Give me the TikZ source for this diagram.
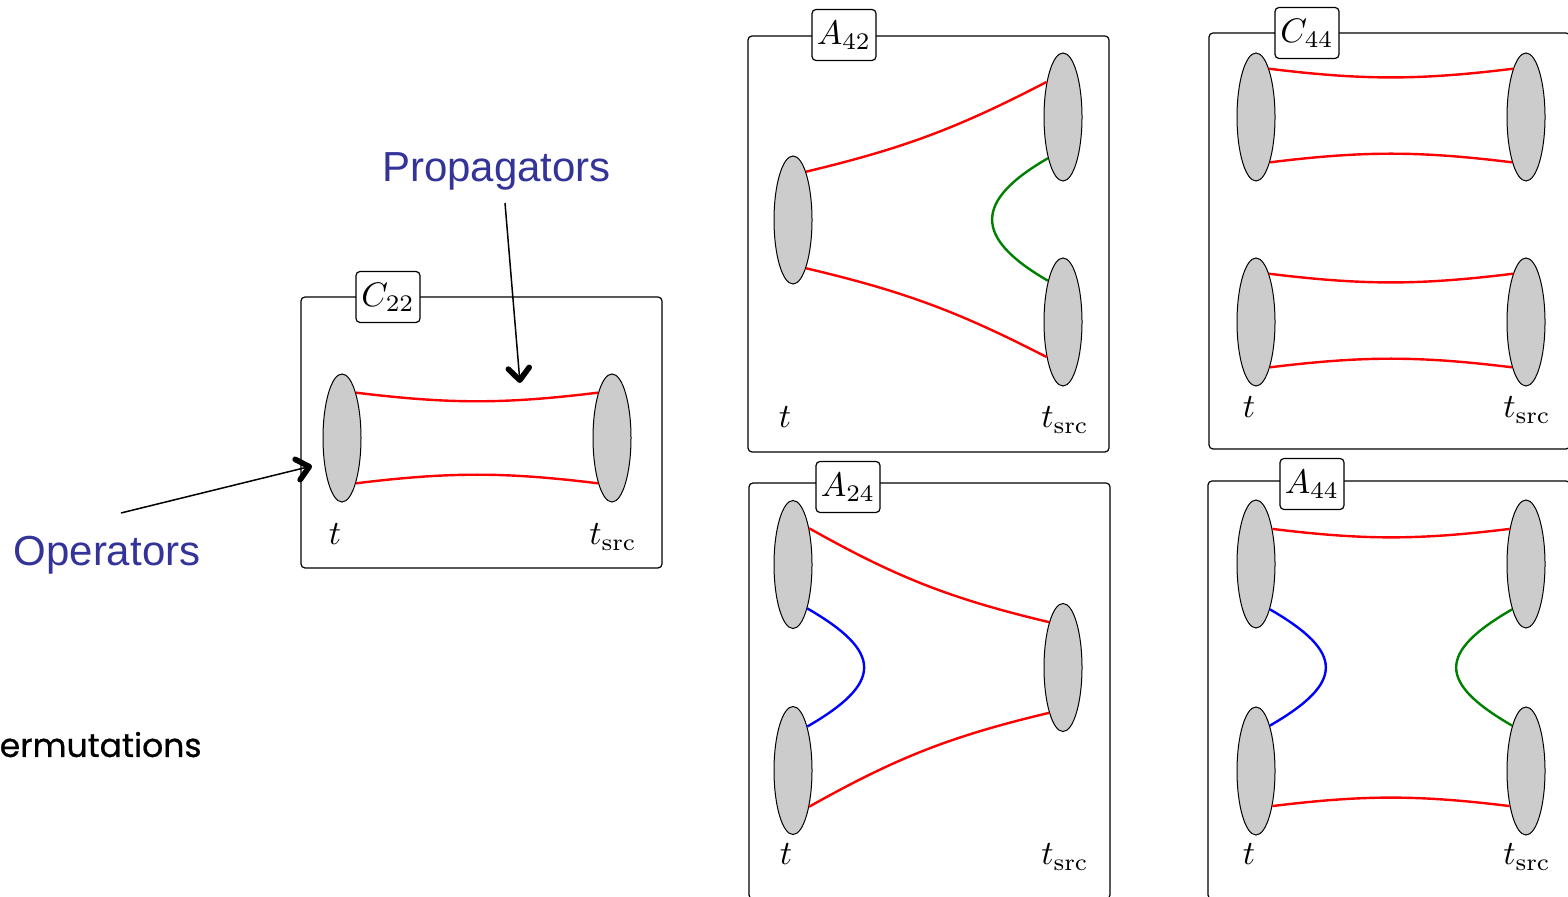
\documentclass[tikz,border=0pt]{standalone}
\usepackage{fontspec}
\newfontfamily\arialf{Liberation Sans}
\newfontfamily\comicf[FakeBold=0.7]{Poppins}
\usetikzlibrary{shapes.geometric,arrows.meta}
\definecolor{notecol}{RGB}{51,51,153}
\definecolor{propgreen}{RGB}{0,128,0}
\newcommand\mlab[1]{\scalebox{1.7}{#1}}
\tikzset{
  frame/.style={draw, rounded corners=2pt, line width=0.6pt},
  tag/.style={draw, fill=white, rounded corners=2pt, line width=0.6pt, minimum width=32pt, minimum height=25.5pt, inner sep=0pt},
  blob/.style={ellipse, draw, fill=black!20, line width=0.5pt, minimum width=19pt, minimum height=64pt, inner sep=0pt},
  rprop/.style={red, line width=1.2pt},
  gprop/.style={propgreen, line width=1.2pt},
  bprop/.style={blue, line width=1.2pt},
  lbl/.style={anchor=base, inner sep=0pt},
  note/.style={anchor=base, inner sep=0pt, text=notecol, font=\arialf\fontsize{21}{25}\selectfont},
  pointer/.style={line width=0.75pt, -{Straight Barb[length=6pt,width=10.5pt,line width=2.8pt,round]}},
  loop/.style={looseness=1.9}
}
\begin{document}
\begin{tikzpicture}[x=0.5pt,y=0.5pt]
\useasboundingbox (0,0) rectangle (1568,897);

% ---------- C22 ----------
\draw[frame] (301,600) rectangle (662,329);
\node[tag] (tC22) at (388,600) {\mlab{$C_{22}$}};
\node[blob] (c22l) at (342,459) {};
\node[blob] (c22r) at (612,459) {};
\draw[rprop] (c22l.73) to[bend right=7] (c22r.107);
\draw[rprop] (c22l.-73) to[bend left=7] (c22r.-107);
\node[lbl] (c22t) at (335,352) {\mlab{$t$}};
\node[lbl] (c22s) at (613,352) {\mlab{$t_{\mathrm{src}}$}};

% ---------- notes ----------
\node[note] (prop) at (496.5,715) {Propagators};
\coordinate (propS) at (505,694);
\coordinate (propE) at (520,514);
\draw[pointer] (propS) -- (propE);
\node[note] (oper) at (107,331) {Operators};
\coordinate (operS) at (121,384);
\coordinate (operE) at (312,431);
\draw[pointer] (operS) -- (operE);
\node[anchor=base east, inner sep=0pt, font=\comicf\fontsize{16.5}{19}\selectfont] (perm) at (202,140) {ermutations};

% ---------- A42 ----------
\draw[frame] (748,861) rectangle (1109,445);
\node[tag] (tA42) at (844,862) {\mlab{$A_{42}$}};
\node[blob] (a42l) at (793,677) {};
\node[blob] (a42rt) at (1063,780) {};
\node[blob] (a42rb) at (1063,575) {};
\draw[rprop] (a42l.75) to[bend right=7] (a42rt.115);
\draw[rprop] (a42l.-75) to[bend left=7] (a42rb.-115);
\draw[gprop] (a42rt.-110) to[out=210,in=150,looseness=1.8] (a42rb.110);
\node[lbl] (a42t) at (785,469) {\mlab{$t$}};
\node[lbl] (a42s) at (1065,469) {\mlab{$t_{\mathrm{src}}$}};

% ---------- C44 ----------
\draw[frame] (1209,864) rectangle (1570,448);
\node[tag] (tC44) at (1307,864) {\mlab{$C_{44}$}};
\node[blob] (c44lt) at (1256,780) {};
\node[blob] (c44rt) at (1526,780) {};
\node[blob] (c44lb) at (1256,575) {};
\node[blob] (c44rb) at (1526,575) {};
\draw[rprop] (c44lt.75) to[bend right=7] (c44rt.105);
\draw[rprop] (c44lt.-73) to[bend left=7] (c44rt.-107);
\draw[rprop] (c44lb.75) to[bend right=7] (c44rb.105);
\draw[rprop] (c44lb.-73) to[bend left=7] (c44rb.-107);
\node[lbl] (c44t) at (1249,479) {\mlab{$t$}};
\node[lbl] (c44s) at (1527,479) {\mlab{$t_{\mathrm{src}}$}};

% ---------- A24 ----------
\draw[frame] (749,414) rectangle (1110,-2);
\node[tag] (tA24) at (848,410) {\mlab{$A_{24}$}};
\node[blob] (a24lt) at (793,332.5) {};
\node[blob] (a24lb) at (793,126.5) {};
\node[blob] (a24r) at (1063,229.5) {};
\draw[rprop] (a24lt.66) to[bend right=8] (a24r.107);
\draw[rprop] (a24lb.-66) to[bend left=8] (a24r.-107);
\draw[bprop] (a24lt.-72) to[out=-30,in=30,loop] (a24lb.72);
\node[lbl] (a24t) at (786,32) {\mlab{$t$}};
\node[lbl] (a24s) at (1065,32) {\mlab{$t_{\mathrm{src}}$}};

% ---------- A44 ----------
\draw[frame] (1208,416) rectangle (1570,-2);
\node[tag] (tA44) at (1312,413) {\mlab{$A_{44}$}};
\node[blob] (a44lt) at (1256,333) {};
\node[blob] (a44rt) at (1526,333) {};
\node[blob] (a44lb) at (1256,126) {};
\node[blob] (a44rb) at (1526,126) {};
\draw[rprop] (a44lt.65) to[bend right=7] (a44rt.115);
\draw[rprop] (a44lb.-65) to[bend left=7] (a44rb.-115);
\draw[bprop] (a44lt.-73) to[out=-30,in=30,loop] (a44lb.73);
\draw[gprop] (a44rt.-107) to[out=210,in=150,loop] (a44rb.107);
\node[lbl] (a44t) at (1249,32) {\mlab{$t$}};
\node[lbl] (a44s) at (1527,32) {\mlab{$t_{\mathrm{src}}$}};
\end{tikzpicture}
\end{document}
